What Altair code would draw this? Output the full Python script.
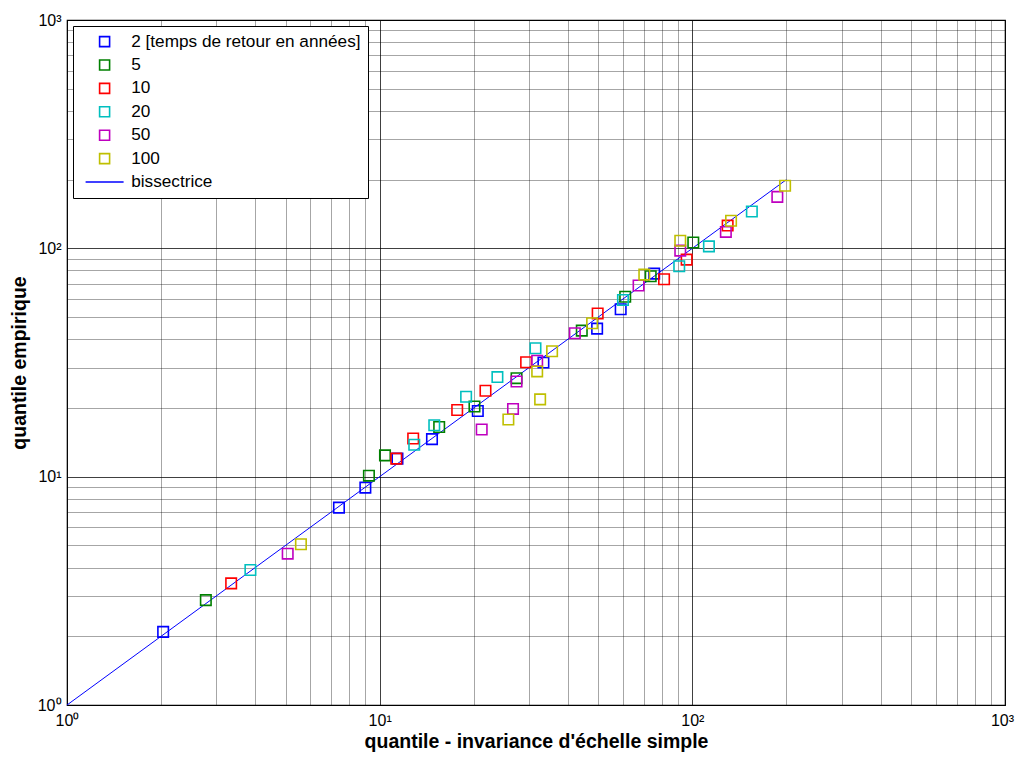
import altair as alt
import pandas as pd

series = ["2 [temps de retour en années]", "5", "10", "20", "50", "100"]
colors = ["#0000ff", "#008000", "#ff0000", "#00bfbf", "#bf00bf", "#bfbf00"]

x2 = [2.03, 7.41, 9.0, 11.4, 14.7, 20.6, 33.4, 49.6, 59.0, 75.5]
y2 = [2.09, 7.32, 8.95, 12.0, 14.6, 19.4, 31.6, 44.5, 54.1, 77.5]
x5 = [2.78, 9.24, 10.4, 15.5, 20.1, 27.4, 44.3, 61.0, 73.6, 100.7]
y5 = [2.88, 10.1, 12.4, 16.5, 20.3, 27.0, 43.6, 61.4, 75.5, 106.0]
x10 = [3.35, 11.3, 12.8, 17.7, 21.8, 29.4, 49.8, 81.2, 95.9, 129.7]
y10 = [3.41, 12.0, 14.7, 19.6, 23.8, 31.7, 51.8, 73.2, 89.2, 125.8]
x20 = [3.86, 12.9, 14.95, 18.9, 23.8, 31.5, 60.0, 90.8, 113.0, 155.0]
y20 = [3.9, 13.8, 16.8, 22.4, 27.3, 36.5, 59.4, 83.5, 102.0, 145.0]
x50 = [5.08, 21.2, 26.7, 27.4, 31.9, 42.1, 67.3, 91.5, 128.0, 187.0]
y50 = [4.6, 16.1, 19.8, 26.1, 32.2, 42.5, 68.7, 97.7, 118.0, 168.0]
x100 = [5.6, 25.8, 32.6, 31.9, 35.6, 47.8, 70.2, 91.5, 133.0, 198.0]
y100 = [5.06, 17.8, 21.8, 28.9, 35.4, 47.0, 76.7, 108.0, 132.0, 188.0]

line_x = [1, 200]
line_y = [1, 200]

xs = [x2, x5, x10, x20, x50, x100]
ys = [y2, y5, y10, y20, y50, y100]
rows = []
for s, xv, yv in zip(series, xs, ys):
    for a, b in zip(xv, yv):
        rows.append({"serie": s, "x": a, "y": b})
pts = pd.DataFrame(rows)
line_df = pd.DataFrame({"x": line_x, "y": line_y})

grid_vals = [m * 10 ** k for k in range(3) for m in range(1, 10)] + [1000]
lab = ("datum.value==1?'10⁰':datum.value==10?'10¹':datum.value==100?'10²':"
       "datum.value==1000?'10³':''")
major_test = "datum.value==1||datum.value==10||datum.value==100||datum.value==1000"

def axis(title, **kw):
    return alt.Axis(
        title=title, values=grid_vals, labelExpr=lab, grid=True, ticks=False,
        domain=False, gridColor="#000000",
        gridOpacity={"condition": {"test": major_test, "value": 0.75}, "value": 0.35},
        gridWidth=1, labelFont="Liberation Sans", labelFontSize=16,
        labelColor="#000000", titleFont="Liberation Sans",
        titleFontSize=19.5, titleFontWeight="bold", titleColor="#000000",
        labelOverlap=False, labelFlush=False, **kw)

xsc = alt.Scale(type="log", domain=[1, 1000], nice=False)
ysc = alt.Scale(type="log", domain=[1, 1000], nice=False)

domain_all = series + ["bissectrice"]
range_colors = colors + ["#0000ff"]
shapes = ["square"] * 6 + ["M-3.8,0H3.8"]

line = alt.Chart(line_df).mark_line(strokeWidth=1, color="#0000ff").encode(
    x=alt.X("x:Q", scale=xsc, axis=axis(
        "quantile - invariance d'échelle simple", labelPadding=7, titlePadding=4,
        labelOffset={"condition": {"test": "datum.value==1000", "value": -3}, "value": 0})),
    y=alt.Y("y:Q", scale=ysc, axis=axis("quantile empirique", labelPadding=6, titlePadding=8)),
)

points = alt.Chart(pts).mark_point(filled=False, strokeWidth=1.6, size=110, opacity=1).encode(
    x=alt.X("x:Q", scale=xsc),
    y=alt.Y("y:Q", scale=ysc),
    color=alt.Color("serie:N", scale=alt.Scale(domain=domain_all, range=range_colors),
                    legend=alt.Legend(title=None, orient="top-left", offset=6,
                                      fillColor="white", strokeColor="#000000",
                                      padding=7, labelFont="Liberation Sans",
                                      labelFontSize=17.2, labelColor="#000000",
                                      labelLimit=400, rowPadding=5.4, symbolSize=100,
                                      symbolStrokeWidth=1.6, symbolOffset=16,
                                      labelOffset=18)),
    shape=alt.Shape("serie:N", scale=alt.Scale(domain=domain_all, range=shapes)),
)

chart = alt.layer(line, points).properties(
    width=938, height=685,
    autosize=alt.AutoSizeParams(type="none"),
    padding={"left": 59, "top": 12, "right": 10, "bottom": 51},
    background="white",
).configure_view(stroke="#000000", strokeWidth=1.2)

chart.save("out.html", embed_options={"renderer": "svg", "actions": False})
